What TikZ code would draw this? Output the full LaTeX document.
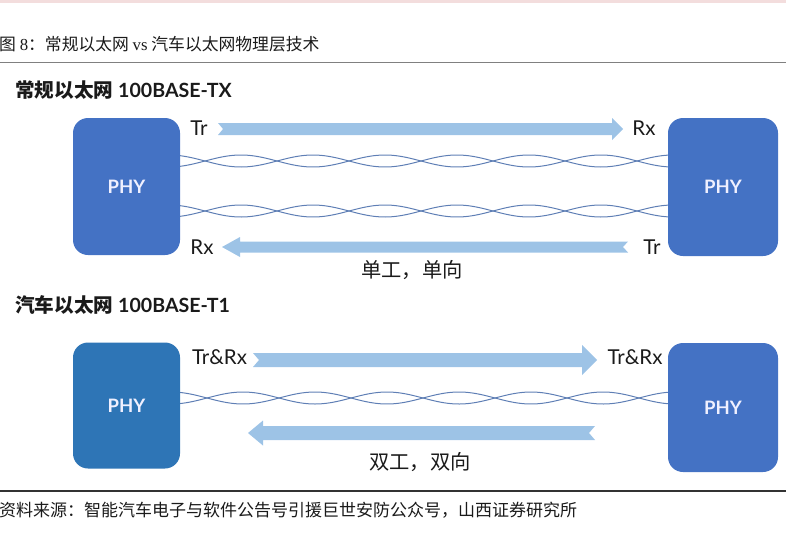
\documentclass[tikz,border=0pt]{standalone}
\usepackage{fontspec}
\setmainfont{Lato}
\newfontfamily\cjk{Noto Sans CJK SC}
\newfontfamily\serifl{Liberation Serif}
\usetikzlibrary{calc}
\definecolor{boxA}{HTML}{4472C4}
\definecolor{boxB}{HTML}{2E75B6}
\definecolor{arrowc}{HTML}{9DC3E6}
\definecolor{wirec}{HTML}{5F7FB5}
\definecolor{pinkband}{HTML}{F3DDDD}
\definecolor{txt}{HTML}{1A1A1A}
\newcommand\flatarrow[6]{%
  \fill[arrowc] ($(#1)+(0,#3)$) -- ($(#2)-(#5,0)+(0,#3)$) -- ($(#2)-(#5,0)+(0,#4)$) -- (#2)
   -- ($(#2)-(#5,0)-(0,#4)$) -- ($(#2)-(#5,0)-(0,#3)$) -- ($(#1)-(0,#3)$) -- ($(#1)+(#6,0)$) -- cycle;}
\begin{document}
\begin{tikzpicture}[x=1pt,y=-1pt,
  phy/.style={rounded corners=15pt, draw=none, text=white!94!blue, font=\bfseries\fontsize{18.5}{20}\selectfont, inner sep=0pt},
  lbl/.style={text=txt, font=\fontsize{20.5}{22}\selectfont, inner sep=0pt},
  captext/.style={text=txt, font=\cjk\fontsize{20.3}{22}\selectfont, inner sep=0pt},
  sub/.style={text=txt, anchor=west, inner sep=0pt},
  wire/.style={draw=wirec, line width=1pt}]
\useasboundingbox (0,0) rectangle (786,535);
\fill[pinkband] (0,0) rectangle (786,2.7);
% title
\node[anchor=west, inner sep=0pt, text=txt] (title) at (-1,44)
  {\cjk\fontsize{16.8}{18}\selectfont 图 {\serifl 8}：常规以太网 {\serifl vs} 汽车以太网物理层技术};
\draw[draw=black!50, line width=1.6pt] (0,62.5) coordinate (tl1) -- (786,62.5) coordinate (tl2);
% section 1
\node[sub] (sub1) at (15,90) {\fontsize{19.6}{21}\selectfont{\cjk\bfseries 常规以太网} \bfseries 100BASE-TX};
\foreach \c in {161,211}{
  \draw[wire] plot[domain=180:668, samples=160, smooth] (\x,{\c+6*sin((\x-205)*2.5)});
  \draw[wire] plot[domain=180:668, samples=160, smooth] (\x,{\c-6*sin((\x-205)*2.5)});
}
\node[phy, fill=boxA, minimum width=107pt, minimum height=137pt] (L1) at (126.5,186.5) {PHY};
\node[phy, fill=boxA, minimum width=110pt, minimum height=138pt] (R1) at (723,187) {PHY};
\coordinate (a1s) at (218,129); \coordinate (a1e) at (623,129);
\flatarrow{a1s}{a1e}{6}{11}{11}{5}
\coordinate (a2s) at (628,247); \coordinate (a2e) at (222,247);
\flatarrow{a2s}{a2e}{5.5}{10}{-18}{-5}
\node[lbl] (tr1) at (199,128) {Tr};
\node[lbl] (rx1) at (644,128) {Rx};
\node[lbl] (rx2) at (202,247) {Rx};
\node[lbl] (tr2) at (652,247) {Tr};
\node[captext] (cap1) at (412,270) {单工，单向};
% section 2
\node[sub] (sub2) at (15,305) {\fontsize{19.6}{21}\selectfont{\cjk\bfseries 汽车以太网} \bfseries 100BASE-T1};
\draw[wire] plot[domain=180:668, samples=160, smooth] (\x,{398+6*sin((\x-207)*2.5)});
\draw[wire] plot[domain=180:668, samples=160, smooth] (\x,{398-6*sin((\x-207)*2.5)});
\node[phy, fill=boxB, minimum width=107pt, minimum height=126pt] (L2) at (126.5,405.5) {PHY};
\node[phy, fill=boxA, minimum width=110pt, minimum height=129pt] (R2) at (723,407.5) {PHY};
\coordinate (b1s) at (253,360); \coordinate (b1e) at (597,360);
\flatarrow{b1s}{b1e}{7}{15}{15}{6}
\coordinate (b2s) at (595,433); \coordinate (b2e) at (248,433);
\flatarrow{b2s}{b2e}{7}{12.5}{-15}{-6}
\node[lbl] (trrx1) at (219.5,357) {Tr\&Rx};
\node[lbl] (trrx2) at (635,357) {Tr\&Rx};
\node[captext] (cap2) at (420,462) {双工，双向};
% source
\draw[draw=black!80, line width=1.1pt] (0,491) coordinate (bl1) -- (786,491) coordinate (bl2);
\node[anchor=west, inner sep=0pt, text=txt] (src) at (-1,510)
  {\cjk\fontsize{17}{19}\selectfont 资料来源：智能汽车电子与软件公告号引援巨世安防公众号，山西证券研究所};
\end{tikzpicture}
\end{document}
